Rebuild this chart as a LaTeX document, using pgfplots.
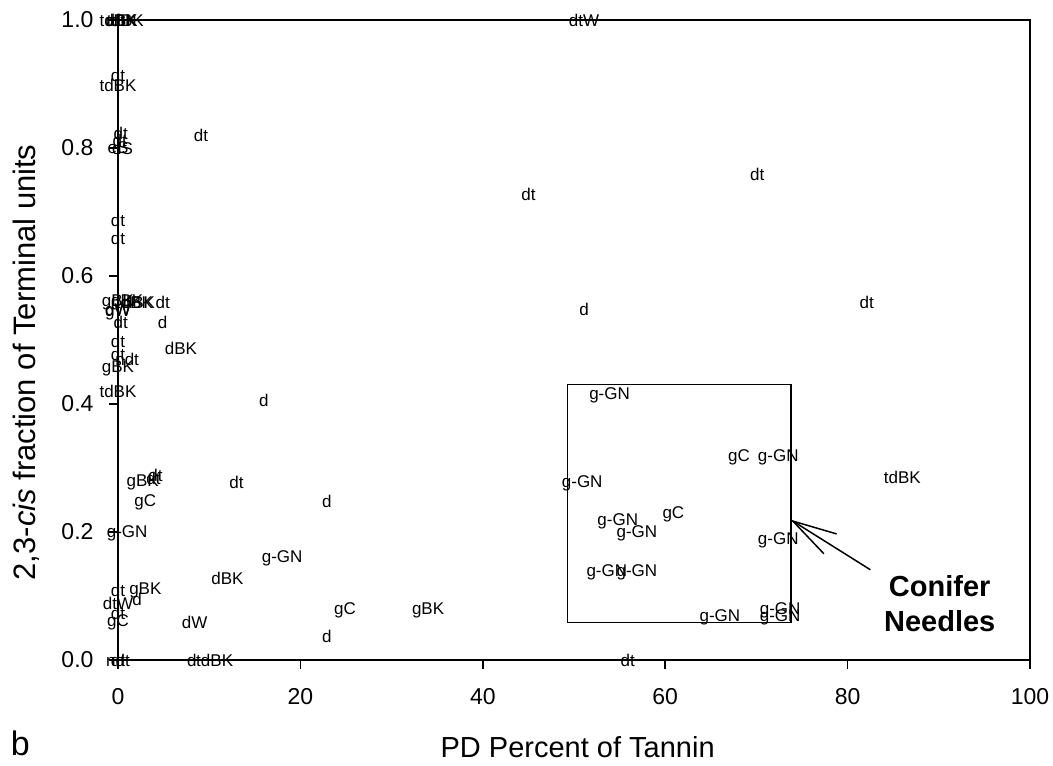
\documentclass[border=0pt]{standalone}
\usepackage{fontspec}
\setmainfont{Liberation Sans}
\usepackage{pgfplots}
\usepackage{pgfplotstable}
\pgfplotsset{compat=1.18}
\pgfplotstableread{
x y label
0 1.0 tdBK
0.4 1.0 dBK
0.8 1.0 tdBK
0 1.0 dt
51.1 1.0 dtW
0 0.914 dt
0 0.898 tdBK
9.1 0.819 dt
0.3 0.822 dt
0.2 0.812 dt
0 0.80 eS
0.5 0.80 dS
0 0.6875 dt
0 0.659 dt
70.1 0.758 dt
45.0 0.728 dt
82.1 0.558 dt
51.1 0.547 d
0 0.558 gBK
1.0 0.558 gBK
1.8 0.558 tdBK
2.3 0.558 dBK
4.9 0.558 dt
0 0.548 dW
0 0.543 gW
0.3 0.528 dt
4.9 0.527 d
0 0.497 dt
0 0.478 dt
1.0 0.470 ndt
0 0.456 gBK
6.9 0.4875 dBK
0 0.419 tdBK
16.0 0.406 d
53.9 0.414 g-GN
68.1 0.316 gC
72.4 0.316 g-GN
50.9 0.276 g-GN
54.8 0.216 g-GN
60.9 0.227 gC
56.9 0.198 g-GN
72.4 0.1875 g-GN
53.6 0.1375 g-GN
56.9 0.1375 g-GN
66.0 0.067 g-GN
72.6 0.078 g-GN
72.6 0.066 g-GN
86.0 0.286 tdBK
4.1 0.289 dt
3.9 0.283 dt
2.7 0.277 gBK
13.0 0.277 dt
3.0 0.247 gC
22.9 0.248 d
1.0 0.198 g-GN
18.0 0.159 g-GN
12.0 0.128 dBK
0 0.109 dt
3.0 0.109 gBK
0 0.089 dtW
2.1 0.095 d
0 0.072 dt
0 0.059 gC
8.4 0.059 dW
24.9 0.078 gC
22.9 0.0375 d
34.0 0.078 gBK
0 0 ndt
0 0 dt
8.1 0 d
10.6 0 tdBK
55.9 0 dt
}\datatable
\begin{document}
\begin{tikzpicture}
\useasboundingbox (0,0) rectangle (1053pt,766pt);
\begin{axis}[
  at={(118pt,106pt)}, anchor=south west,
  scale only axis, width=912pt, height=640pt,
  xmin=0, xmax=100, ymin=0, ymax=1,
  clip=false,
  axis line style={line width=1.5pt, black},
  xtick={0,20,40,60,80,100},
  ytick={0,0.2,0.4,0.6,0.8,1.0},
  xtick pos=left, ytick pos=left,
  tick align=outside,
  major tick length=9pt,
  every tick/.style={line width=1.5pt, black},
  /pgf/number format/assume math mode=true,
  tick label style={font=\fontsize{23}{23}\selectfont},
  yticklabel style={/pgf/number format/.cd, fixed, fixed zerofill, precision=1, /tikz/.cd, xshift=-12pt},
  xticklabel style={yshift=-16pt},
  xlabel={PD Percent of Tannin},
  ylabel={2,3-\textit{cis} fraction of Terminal units},
  xlabel style={font=\fontsize{29}{29}\selectfont, at={(axis description cs:0.504,-0.136)}, anchor=center},
  ylabel style={font=\fontsize{31}{31}\selectfont, at={(axis description cs:-0.1009,0.465)}, anchor=center, rotate=0},
]
\addplot[only marks, mark=*, mark size=0pt, mark options={draw=none, fill=none},
  nodes near coords, point meta=explicit symbolic,
  nodes near coords align={center},
  every node near coord/.style={anchor=center, inner sep=0pt, font=\fontsize{17}{17}\selectfont, text=black}]
  table[x=x, y=y, meta=label] {\datatable};
\draw[line width=1.3pt] (axis cs:49.3,0.059) rectangle (axis cs:73.8,0.43);
\draw[line width=1.5pt] (axis cs:82.5,0.141) -- (axis cs:74.0,0.217);
\draw[line width=1.5pt] (axis cs:78.8,0.197) -- (axis cs:74.0,0.217) -- (axis cs:77.4,0.166);
\node[font=\bfseries\fontsize{29}{35}\selectfont, align=center] at (axis cs:90.1,0.0875) {Conifer\\Needles};
\node[font=\fontsize{34}{34}\selectfont] at (axis description cs:-0.107,-0.131) {b};
\end{axis}
\end{tikzpicture}
\end{document}
